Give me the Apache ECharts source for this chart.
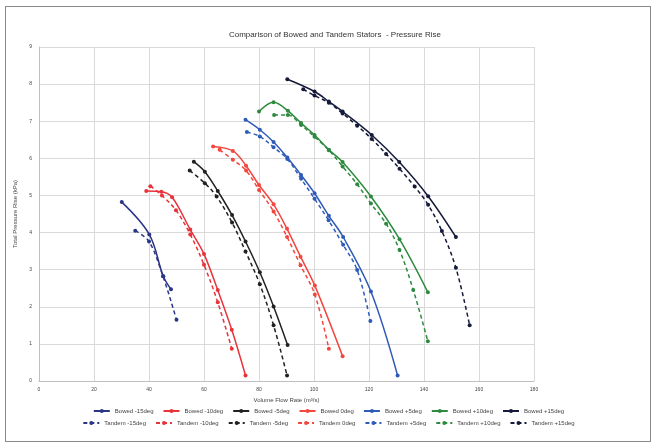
<!DOCTYPE html>
<html>
<head>
<meta charset="utf-8">
<script src="https://cdn.jsdelivr.net/npm/echarts@6/dist/echarts.min.js"></script>
<style>
html,body{margin:0;padding:0;background:#fff;}
#wrap{position:absolute;left:5px;top:6px;width:646px;height:436px;border:1px solid #8a8a8a;box-sizing:border-box;}
#c{position:absolute;left:0;top:0;width:657px;height:448px;}
</style>
</head>
<body>
<div id="wrap"></div>
<div id="c"></div>
<script>
// Volume flow rate (m^3/s), total pressure rise (kPa)
const bowedM15  = [[30.1,4.82],[40.1,3.95],[45.2,2.82],[48.0,2.47]];
const tandemM15 = [[35.0,4.05],[40.0,3.76],[45.1,2.82],[50.0,1.65]];
const bowedM10  = [[39.0,5.12],[44.5,5.10],[48.4,4.95],[55.0,4.08],[60.0,3.42],[65.0,2.45],[70.1,1.38],[75.1,0.15]];
const tandemM10 = [[40.5,5.25],[44.7,5.00],[49.8,4.60],[55.0,3.95],[60.0,3.13],[65.0,2.12],[70.1,0.87]];
const bowedM5   = [[56.3,5.91],[60.3,5.64],[65.0,5.12],[70.2,4.47],[75.1,3.76],[80.3,2.93],[85.3,2.01],[90.4,0.97]];
const tandemM5  = [[54.8,5.67],[60.3,5.33],[64.6,4.97],[70.2,4.27],[75.1,3.49],[80.3,2.61],[85.3,1.50],[90.2,0.15]];
const bowed0    = [[63.3,6.32],[70.5,6.20],[75.3,5.80],[80.0,5.28],[85.3,4.76],[90.2,4.10],[95.1,3.35],[100.3,2.57],[110.4,0.67]];
const tandem0   = [[65.7,6.23],[70.5,5.96],[75.3,5.67],[80.0,5.15],[85.3,4.57],[90.2,3.88],[95.1,3.12],[100.3,2.33],[105.4,0.87]];
const bowedP5   = [[75.1,7.04],[80.3,6.77],[85.3,6.44],[90.3,6.02],[95.3,5.55],[100.2,5.06],[105.4,4.45],[110.6,3.88],[120.7,2.41],[130.4,0.15]];
const tandemP5  = [[75.6,6.71],[80.3,6.59],[85.3,6.30],[90.3,5.98],[95.3,5.45],[100.2,4.91],[105.3,4.33],[110.6,3.67],[115.7,2.99],[120.5,1.62]];
const bowedP10  = [[80.0,7.26],[85.3,7.51],[90.5,7.28],[95.3,6.95],[100.2,6.63],[105.4,6.23],[110.4,5.90],[120.7,4.97],[131.1,3.82],[141.4,2.39]];
const tandemP10 = [[85.5,7.17],[90.5,7.17],[95.3,6.90],[100.2,6.58],[105.4,6.22],[110.4,5.78],[115.7,5.30],[120.7,4.78],[126.2,4.24],[131.1,3.53],[136.1,2.45],[141.4,1.07]];
const bowedP15  = [[90.3,8.13],[100.2,7.80],[105.4,7.53],[110.4,7.26],[121.0,6.63],[131.0,5.90],[141.5,4.98],[151.6,3.88]];
const tandemP15 = [[96.1,7.86],[100.2,7.69],[105.4,7.50],[110.4,7.21],[115.7,6.88],[121.0,6.52],[126.2,6.12],[131.1,5.72],[136.6,5.24],[141.5,4.75],[146.5,4.04],[151.6,3.05],[156.6,1.50]];

const bowedNames  = ['Bowed -15deg','Bowed -10deg','Bowed -5deg','Bowed 0deg','Bowed +5deg','Bowed +10deg','Bowed +15deg'];
const tandemNames = ['Tandem -15deg','Tandem -10deg','Tandem -5deg','Tandem 0deg','Tandem +5deg','Tandem +10deg','Tandem +15deg'];
const colors = ['#2b3585','#e8333a','#222222','#f2473f','#2f5bb8','#2d8a3e','#151a3a'];
const bowedData  = [bowedM15,bowedM10,bowedM5,bowed0,bowedP5,bowedP10,bowedP15];
const tandemData = [tandemM15,tandemM10,tandemM5,tandem0,tandemP5,tandemP10,tandemP15];

const xTicks = {min:0,max:180,interval:20};
const yTicks = {min:0,max:9,interval:1};

const series = [];
for (let i=0;i<7;i++){
  series.push({name:bowedNames[i],type:'line',smooth:0.35,data:bowedData[i],symbol:'circle',symbolSize:4,
    lineStyle:{color:colors[i],width:1.5,type:'solid'},itemStyle:{color:colors[i]}});
}
for (let i=0;i<7;i++){
  series.push({name:tandemNames[i],type:'line',smooth:0.35,data:tandemData[i],symbol:'circle',symbolSize:4,
    lineStyle:{color:colors[i],width:1.5,type:[4,3]},itemStyle:{color:colors[i]}});
}
const legendCommon = {left:'center',itemWidth:16,itemHeight:5,itemGap:9,
  textStyle:{fontSize:6,color:'#444',fontFamily:'Liberation Sans'},padding:0};
const chart = echarts.init(document.getElementById('c'),null,{renderer:'canvas'});
chart.setOption({
  animation:false,
  backgroundColor:'transparent',
  title:{text:'Comparison of Bowed and Tandem Stators  - Pressure Rise',left:330,textAlign:'center',top:26,
    textStyle:{fontSize:8,fontWeight:'normal',color:'#333',fontFamily:'Liberation Sans'}},
  grid:{left:39,right:123,top:47,bottom:67},
  legend:[
    Object.assign({data:bowedNames,top:408},legendCommon),
    Object.assign({data:tandemNames,top:420},legendCommon)
  ],
  xAxis:{type:'value',min:xTicks.min,max:xTicks.max,interval:xTicks.interval,
    name:'Volume Flow Rate (m³/s)',nameLocation:'middle',nameGap:15,
    nameTextStyle:{fontSize:6,color:'#444',fontFamily:'Liberation Sans'},
    axisLine:{show:true,lineStyle:{color:'#bfbfbf'}},axisTick:{show:false},
    axisLabel:{fontSize:5,color:'#444',margin:6},
    splitLine:{show:true,lineStyle:{color:'#d9d9d9',width:1}}},
  yAxis:{type:'value',min:yTicks.min,max:yTicks.max,interval:yTicks.interval,
    name:'Total Pressure Rise (kPa)',nameLocation:'middle',nameGap:14,
    nameTextStyle:{fontSize:6,color:'#444',fontFamily:'Liberation Sans'},
    axisLine:{show:true,lineStyle:{color:'#bfbfbf'}},axisTick:{show:false},
    axisLabel:{fontSize:5,color:'#444',margin:7},
    splitLine:{show:true,lineStyle:{color:'#d9d9d9',width:1}}},
  series:series
});
</script>
</body>
</html>
